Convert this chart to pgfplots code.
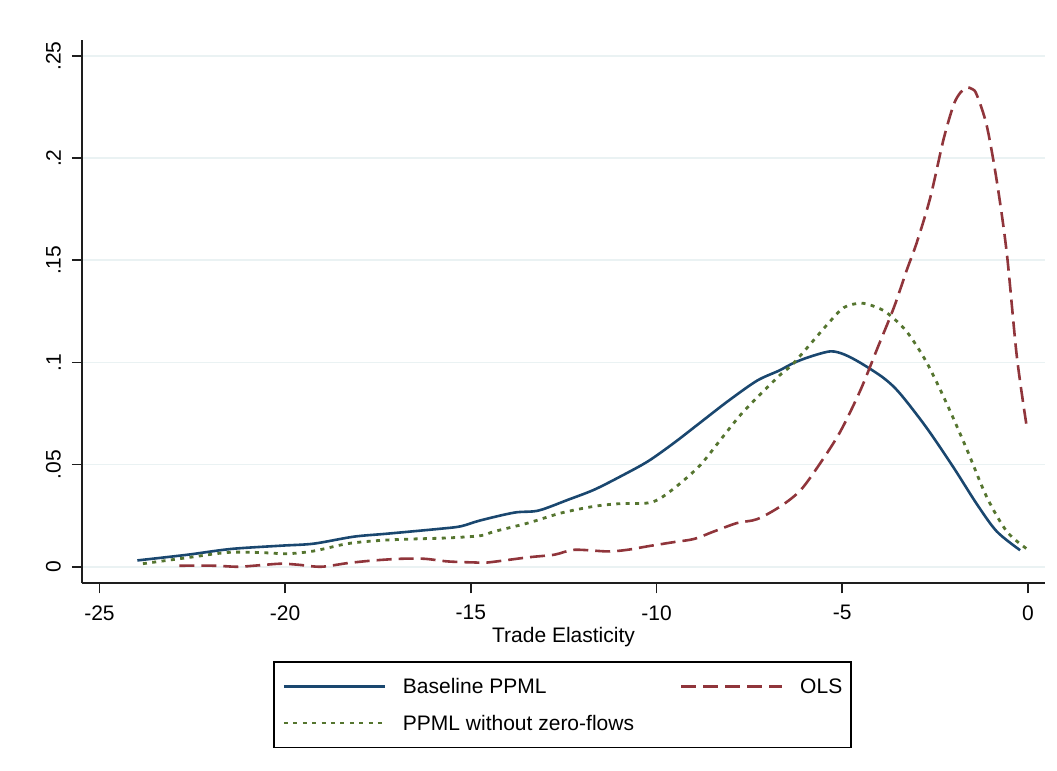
\documentclass[border=0pt]{standalone}
\usepackage{fontspec}
\setmainfont{Liberation Sans}
\usepackage{pgfplots}
\pgfplotsset{compat=1.18}
\definecolor{stnavy}{RGB}{26,71,111}
\definecolor{stmaroon}{RGB}{144,53,59}
\definecolor{stgreen}{RGB}{85,117,47}
\definecolor{stgrid}{RGB}{234,242,243}
\definecolor{staxis}{RGB}{30,30,30}
\begin{document}
\begin{tikzpicture}
\path[use as bounding box] (-41pt,-93.85pt) rectangle (487.5pt,291.65pt);
\begin{axis}[
  at={(0pt,0pt)}, anchor=south west,
  scale only axis, width=481.5pt, height=271.65pt,
  xmin=-25.47, xmax=0.46, ymin=-0.0081, ymax=0.2578,
  axis x line*=bottom, axis y line*=left,
  axis line style={staxis, line width=0.9pt},
  every tick/.style={staxis, line width=0.9pt},
  tick align=outside, major tick length=5pt,
  xtick={-25,-20,-15,-10,-5,0}, xticklabels={-25,-20,-15,-10,-5,0},
  ytick={0,0.05,0.1,0.15,0.2,0.25}, yticklabels={0,.05,.1,.15,.2,.25},
  ymajorgrids, grid style={stgrid, line width=0.85pt},
  ticklabel style={font=\fontsize{10.5}{12}\selectfont},
  yticklabel style={rotate=90, anchor=south},
  yticklabel shift=2pt,
  xticklabel shift=2.5pt,
  xlabel={Trade Elasticity},
  xlabel style={font=\fontsize{10.5}{12}\selectfont, at={(axis description cs:0.5,0)}, anchor=base, yshift=-29.7pt},
  legend columns=2,
  legend cell align=left,
  legend style={at={(axis description cs:0.1983,-0.1430)}, anchor=north west, draw=black, line width=0.8pt,
    font=\fontsize{10.5}{12}\selectfont, inner xsep=4.4pt, inner ysep=8.5pt, row sep=10.75pt,
    nodes={inner sep=0pt, text height=7.6pt, text depth=0pt},
    /tikz/every odd column/.append style={column sep=8.3pt},
    /tikz/every even column/.append style={column sep=23pt}},
  legend image code/.code={\draw[#1] (0pt,0pt) -- (50.5pt,0pt);},
]
\addplot[stnavy, line width=1.3pt, smooth] coordinates {
(-23.98,0.0031) (-22.62,0.0059) (-21.46,0.0087) (-20.12,0.0103) (-19.23,0.0113)
(-18.16,0.0147) (-17.24,0.0162) (-15.82,0.0186) (-15.27,0.0198) (-14.74,0.0227)
(-13.83,0.0265) (-13.18,0.0275) (-12.38,0.0328) (-11.68,0.0377) (-10.96,0.0443)
(-10.23,0.0516) (-9.53,0.0606) (-8.89,0.0696) (-8.08,0.0810) (-7.30,0.0910)
(-6.70,0.0960) (-6.30,0.0998) (-5.85,0.1029) (-5.32,0.1054) (-4.96,0.1040)
(-4.51,0.0998) (-3.88,0.0923) (-3.44,0.0847) (-2.72,0.0678) (-2.00,0.0485)
(-1.38,0.0308) (-0.84,0.0173) (-0.21,0.0081)
};
\addlegendentry{Baseline PPML}
\addplot[stmaroon, line width=1.3pt, dash pattern=on 7.5pt off 3.5pt, smooth] coordinates {
(-22.85,0.0005) (-21.90,0.0005) (-21.27,0.0000) (-20.64,0.0008) (-20.11,0.0015)
(-19.66,0.0010) (-19.03,0.0000) (-18.31,0.0018) (-17.60,0.0031) (-16.88,0.0039)
(-16.25,0.0039) (-15.62,0.0026) (-14.90,0.0021) (-14.54,0.0021) (-13.46,0.0046)
(-12.75,0.0059) (-12.21,0.0083) (-11.31,0.0075) (-10.78,0.0083) (-10.24,0.0100)
(-9.52,0.0121) (-8.99,0.0136) (-8.45,0.0173) (-7.83,0.0214) (-7.29,0.0233)
(-6.66,0.0296) (-6.12,0.0375) (-5.58,0.0510) (-5.05,0.0662) (-4.51,0.0864)
(-4.06,0.1066) (-3.61,0.1268) (-3.26,0.1453) (-2.99,0.1588) (-2.63,0.1806)
(-2.27,0.2093) (-2.00,0.2261) (-1.82,0.2320) (-1.65,0.2345) (-1.50,0.2338)
(-1.38,0.2311) (-1.11,0.2160) (-0.84,0.1890) (-0.57,0.1537) (-0.30,0.1032)
(-0.04,0.0695)
};
\addlegendentry{OLS}
\addplot[stgreen, line width=1.4pt, dash pattern=on 2pt off 2.7pt, smooth] coordinates {
(-23.83,0.0015) (-22.53,0.0047) (-21.55,0.0070) (-20.74,0.0070) (-19.94,0.0064)
(-19.23,0.0077) (-18.32,0.0113) (-17.43,0.0129) (-16.54,0.0136) (-15.63,0.0141)
(-14.74,0.0152) (-14.36,0.0173) (-13.46,0.0214) (-12.57,0.0263) (-11.67,0.0296)
(-10.96,0.0309) (-10.24,0.0312) (-9.88,0.0337) (-9.35,0.0410) (-8.81,0.0500)
(-8.27,0.0623) (-7.73,0.0745) (-7.20,0.0845) (-6.66,0.0941) (-6.30,0.0998)
(-5.41,0.1184) (-4.96,0.1268) (-4.51,0.1290) (-4.15,0.1275) (-3.79,0.1242)
(-3.26,0.1150) (-2.72,0.0998) (-2.18,0.0796) (-1.65,0.0577) (-1.11,0.0342)
(-0.57,0.0173) (-0.04,0.0089)
};
\addlegendentry{PPML without zero-flows}
\end{axis}
\end{tikzpicture}
\end{document}
